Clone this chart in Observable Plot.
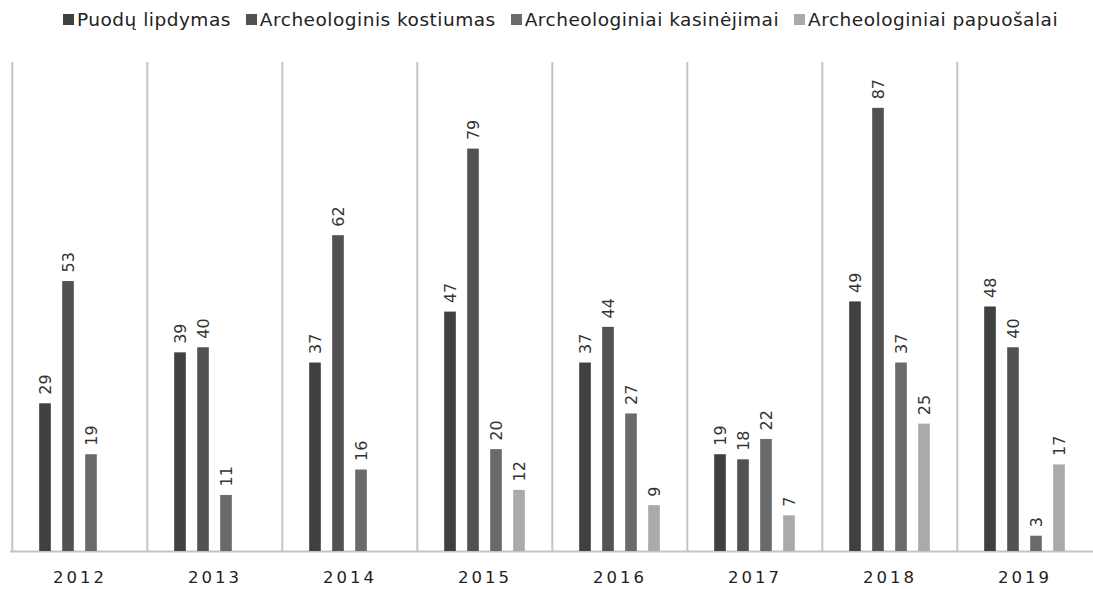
<!DOCTYPE html>
<html>
<head>
<meta charset="utf-8">
<script src="https://cdn.jsdelivr.net/npm/d3@7"></script>
<script src="https://cdn.jsdelivr.net/npm/@observablehq/plot@0.6"></script>
<style>
  html, body { margin: 0; padding: 0; background: #fff; }
  #legend { height: 38px; display: flex; align-items: center; justify-content: center; padding-left: 28px;
    font-family: "DejaVu Sans", sans-serif; font-size: 18.5px; letter-spacing: 0.5px; color: #222; box-sizing: border-box; }
  #legend .item { display: flex; align-items: center; margin: 0 7.5px; }
  #legend .sw { width: 11px; height: 11px; margin-right: 3px; display: inline-block; }
  g[aria-label^="x-axis"] text { letter-spacing: 3px; }
</style>
</head>
<body>
<div id="legend"></div>
<div id="chart"></div>
<script>
const years = ["2012", "2013", "2014", "2015", "2016", "2017", "2018", "2019"];
const seriesNames = ["Puodų lipdymas", "Archeologinis kostiumas", "Archeologiniai kasinėjimai", "Archeologiniai papuošalai"];
const puoduLipdymas = [29, 39, 37, 47, 37, 19, 49, 48];
const archKostiumas = [53, 40, 62, 79, 44, 18, 87, 40];
const archKasinejimai = [19, 11, 16, 20, 27, 22, 37, 3];
const archPapuosalai = [null, null, null, 12, 9, 7, 25, 17];
const colors = ["#404040", "#525252", "#6a6a6a", "#aaaaaa"];

const seriesValues = [puoduLipdymas, archKostiumas, archKasinejimai, archPapuosalai];
const data = [];
seriesNames.forEach((s, i) => years.forEach((y, j) => {
  if (seriesValues[i][j] != null) data.push({year: y, series: s, value: seriesValues[i][j], si: i});
}));

// legend
const legend = document.getElementById("legend");
seriesNames.forEach((s, i) => {
  const it = document.createElement("span"); it.className = "item";
  const sw = document.createElement("span"); sw.className = "sw"; sw.style.background = colors[i];
  it.appendChild(sw); it.appendChild(document.createTextNode(s));
  legend.appendChild(it);
});

const width = 1093, height = 551, marginLeft = 10, marginRight = 0;
const band = (width - marginLeft - marginRight) / years.length;
const slot = 23, barW = 12;
const marks = [
  Plot.ruleX(years, {x: d => d, dx: -band / 2, stroke: "#c4c4c4", strokeWidth: 2}),
  Plot.ruleY([0], {stroke: "#c4c4c4", strokeWidth: 2})
];
seriesNames.forEach((s, i) => {
  const off = (i - 1.5) * slot;
  const sub = data.filter(d => d.si === i);
  marks.push(Plot.barY(sub, {x: "year", y: "value", fill: colors[i], dx: off,
    insetLeft: (band - barW) / 2, insetRight: (band - barW) / 2}));
  marks.push(Plot.text(sub, {x: "year", y: "value", text: d => String(d.value), dx: off, dy: -9,
    rotate: -90, textAnchor: "start", lineAnchor: "middle", fill: "#333", fontSize: 16}));
});

const chart = Plot.plot({
  width, height, marginLeft, marginRight, marginTop: 24, marginBottom: 38,
  style: {fontFamily: "'DejaVu Sans', sans-serif", fontSize: "16.5px", color: "#1e1e1e", background: "#fff"},
  x: {domain: years, padding: 0, tickSize: 0, tickPadding: 20, label: null},
  y: {domain: [0, 96], axis: null},
  marks
});
document.getElementById("chart").appendChild(chart);
</script>
</body>
</html>
